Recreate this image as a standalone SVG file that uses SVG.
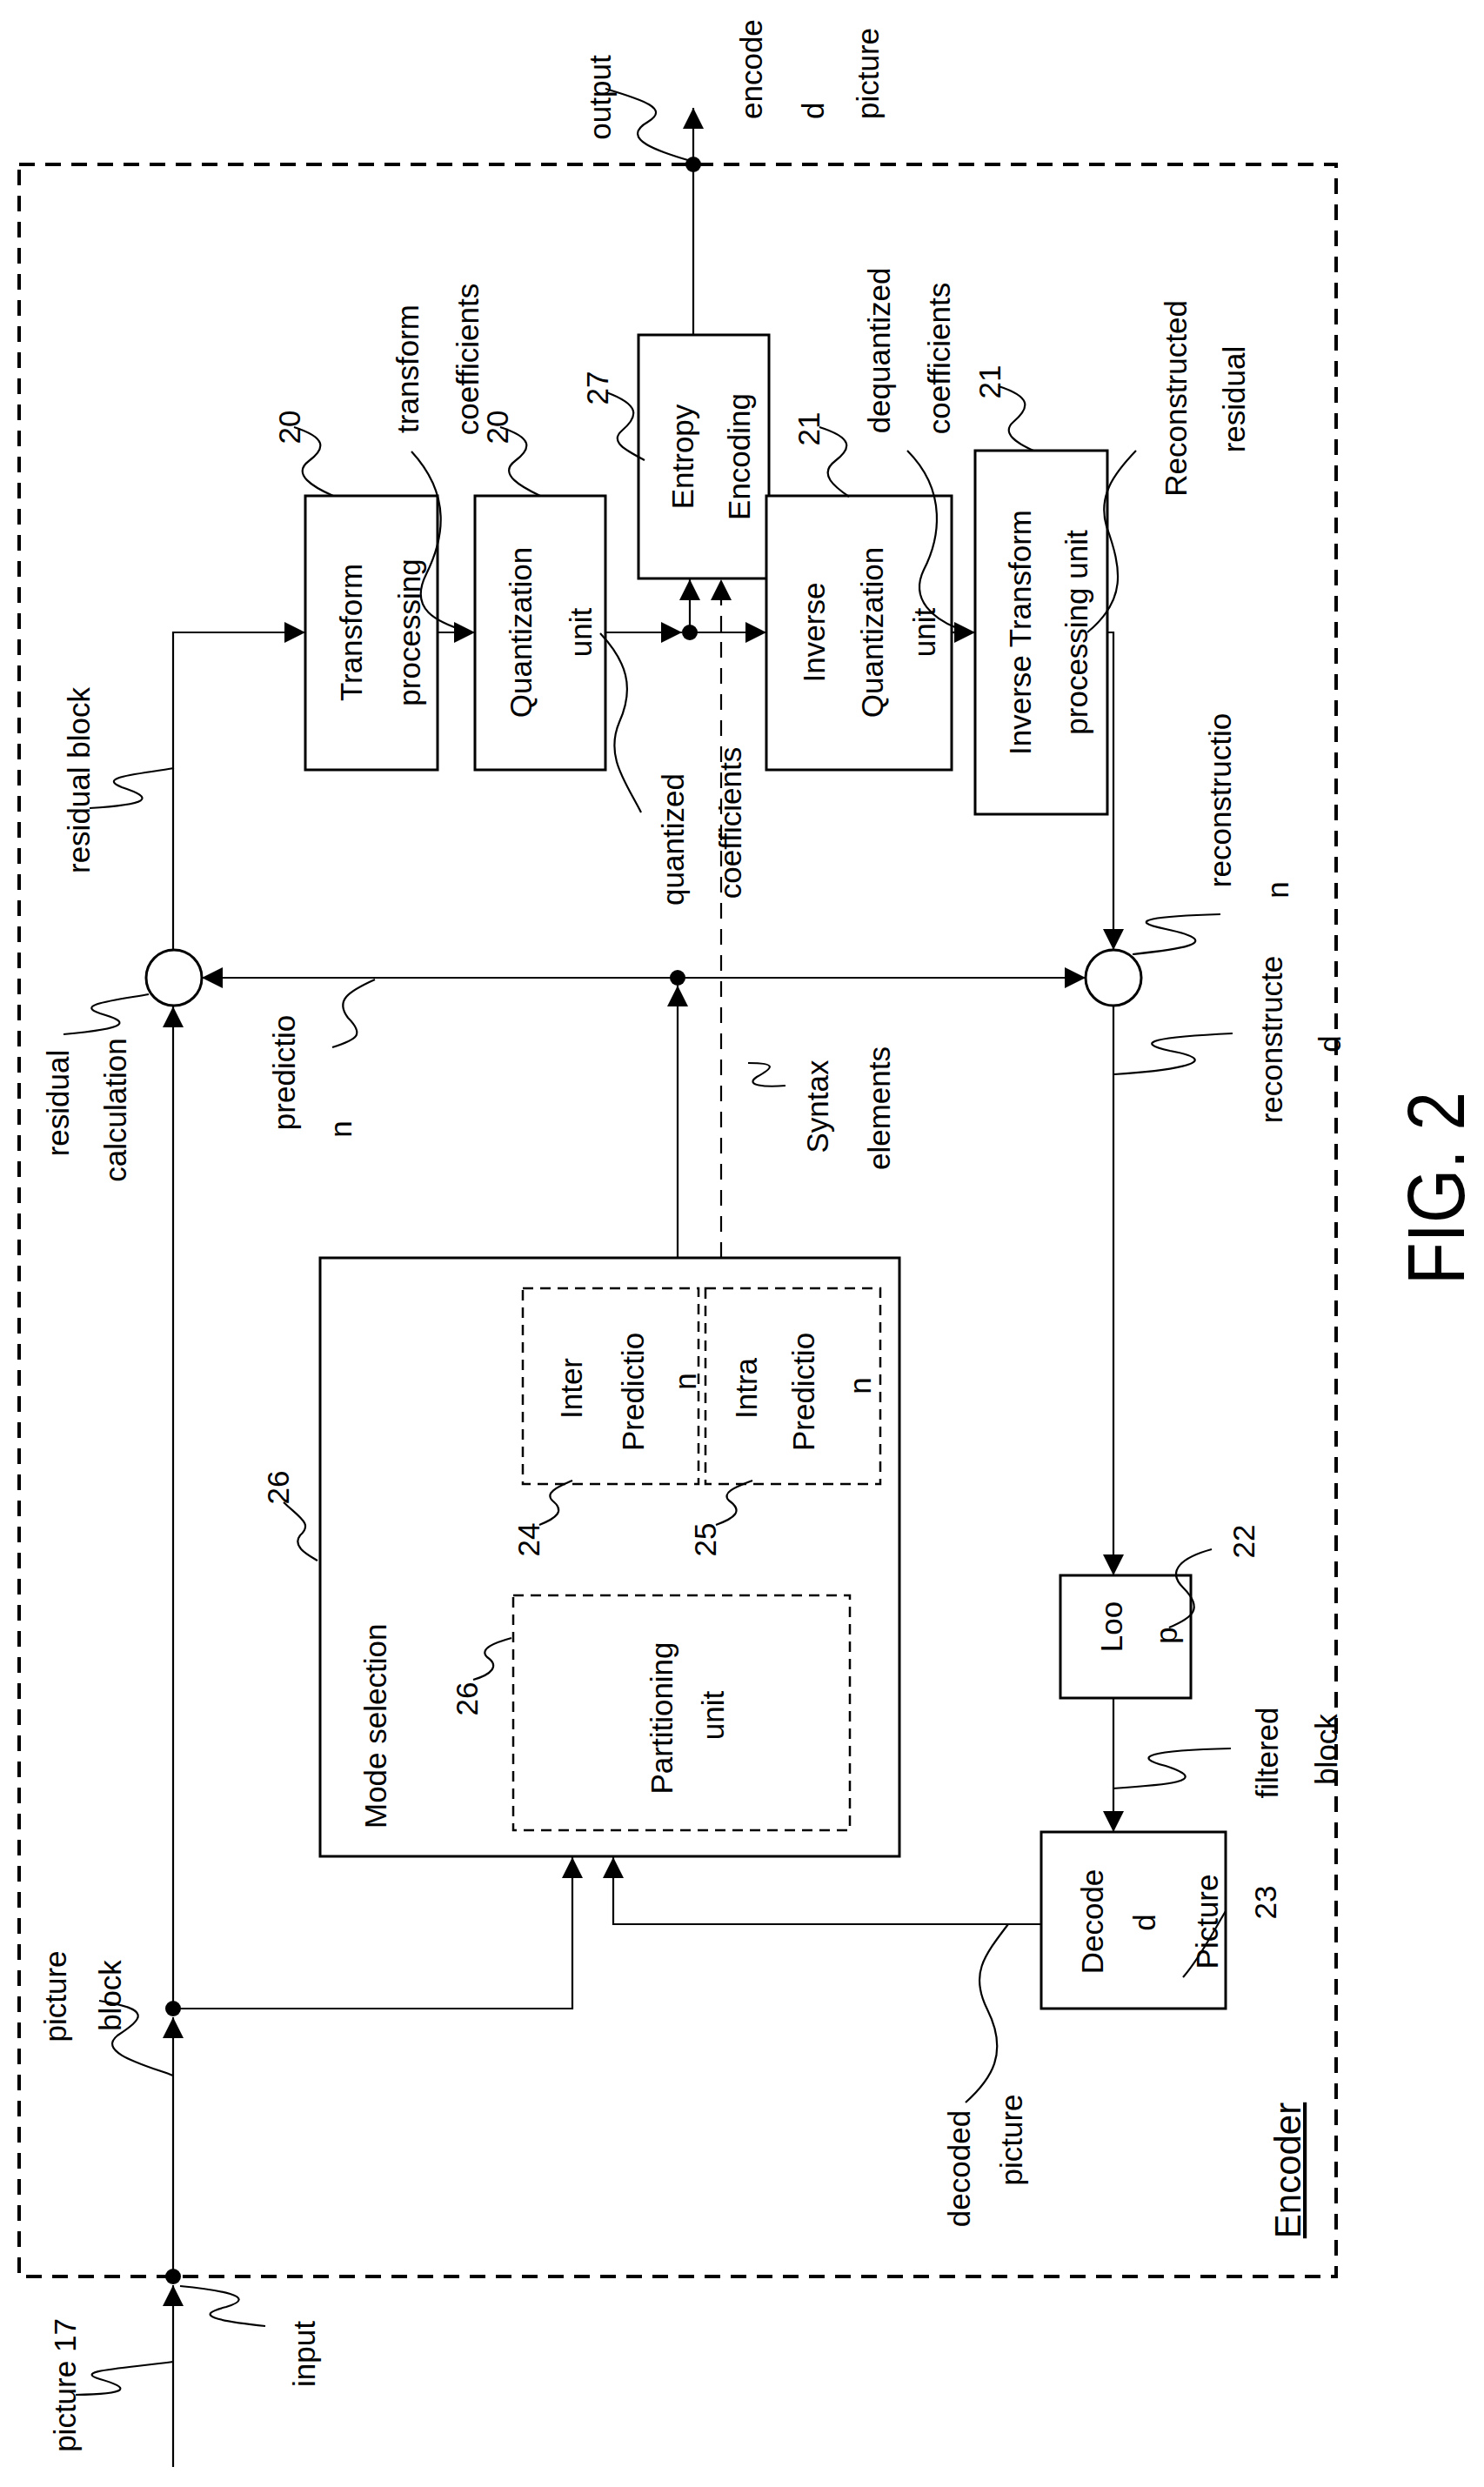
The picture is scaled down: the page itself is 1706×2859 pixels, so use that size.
<svg xmlns="http://www.w3.org/2000/svg" width="1706" height="2859" viewBox="0 0 1706 2859">
<style>
text{font-family:"Liberation Sans",Arial,sans-serif;font-size:35px;fill:#000}
.t{text-anchor:middle}
.s{text-anchor:start}
.box{fill:#fff;stroke:#000;stroke-width:3}
.dbox{fill:none;stroke:#000;stroke-width:2.5;stroke-dasharray:12 8}
.ln{fill:none;stroke:#000;stroke-width:2.2}
.ar{marker-end:url(#ah)}
.sq{fill:none;stroke:#000;stroke-width:2.2}
</style>
<defs>
<marker id="ah" markerUnits="userSpaceOnUse" markerWidth="24" markerHeight="24" refX="24" refY="12" orient="auto">
<path d="M0,0 L24,12 L0,24 z" fill="#000"/>
</marker>
</defs>
<rect width="1706" height="2859" fill="#fff"/>
<g id="encoder">
<rect x="22" y="189" width="1514" height="2428" fill="none" stroke="#000" stroke-width="4" stroke-dasharray="18 12"/>
<text transform="translate(1495,2495) rotate(-90)" class="t" style="font-size:42px;text-decoration:underline">Encoder</text>
</g>
<g id="connectors">
<path class="ln ar" d="M199,2836 V2627"/>
<path class="ln ar" d="M199,2617 V2319"/>
<path class="ln ar" d="M199,2309 V1157"/>
<path class="ln ar" d="M199,2309 H658 V2135"/>
<path class="ln ar" d="M1197,2212 H705 V2135"/>
<path class="ln ar" d="M199,1092 V727 H351"/>
<path class="ln ar" d="M503,727 H546"/>
<path class="ln ar" d="M696,727 H784"/>
<path class="ln ar" d="M793,727 H881"/>
<path class="ln ar" d="M793,727 V666"/>
<path class="ln ar" d="M829,1446 V666" stroke-dasharray="18 12"/>
<path class="ln ar" d="M1094,727 H1121"/>
<path class="ln ar" d="M1251,727 H1280 V1092"/>
<path class="ln ar" d="M779,1446 V1133"/>
<path class="ln ar" d="M779,1124 H232"/>
<path class="ln ar" d="M779,1124 H1248"/>
<path class="ln ar" d="M1280,1156 V1811"/>
<path class="ln ar" d="M1280,1952 V2106"/>
<path class="ln ar" d="M797,385 V124"/>
<circle cx="797" cy="189" r="9"/>
<circle cx="793" cy="727" r="9"/>
<circle cx="779" cy="1124" r="9"/>
<circle cx="199" cy="2309" r="9"/>
<circle cx="199" cy="2617" r="9"/>
</g>
<g id="residual">
<circle cx="200" cy="1124" r="32" fill="#fff" stroke="#000" stroke-width="3"/>
</g>
<g id="reconstruction">
<circle cx="1280" cy="1124" r="32" fill="#fff" stroke="#000" stroke-width="3"/>
</g>
<g id="transform">
<rect class="box" x="351" y="570" width="152" height="315"/>
<text transform="translate(416,727) rotate(-90)" class="t">Transform</text>
<text transform="translate(483,727) rotate(-90)" class="t">processing</text>
</g>
<g id="quantization">
<rect class="box" x="546" y="570" width="150" height="315"/>
<text transform="translate(611,727) rotate(-90)" class="t">Quantization</text>
<text transform="translate(680,727) rotate(-90)" class="t">unit</text>
</g>
<g id="entropy">
<rect class="box" x="734" y="385" width="150" height="280"/>
<text transform="translate(797,525) rotate(-90)" class="t">Entropy</text>
<text transform="translate(862,525) rotate(-90)" class="t">Encoding</text>
</g>
<g id="invquant">
<rect class="box" x="881" y="570" width="213" height="315"/>
<text transform="translate(948,727) rotate(-90)" class="t">Inverse</text>
<text transform="translate(1015,727) rotate(-90)" class="t">Quantization</text>
<text transform="translate(1075,727) rotate(-90)" class="t">unit</text>
</g>
<g id="invtransform">
<rect class="box" x="1121" y="518" width="152" height="418"/>
<text transform="translate(1185,727) rotate(-90)" class="t">Inverse Transform</text>
<text transform="translate(1250,727) rotate(-90)" class="t">processing unit</text>
</g>
<g id="modeselection">
<rect class="box" x="368" y="1446" width="666" height="688"/>
<text transform="translate(444,2102) rotate(-90)" class="s">Mode selection</text>
</g>
<g id="inter">
<rect class="dbox" x="601" y="1481" width="202" height="225"/>
<text transform="translate(669,1596) rotate(-90)" class="t">Inter</text>
<text transform="translate(740,1600) rotate(-90)" class="t">Predictio</text>
<text transform="translate(800,1588) rotate(-90)" class="t">n</text>
</g>
<g id="intra">
<rect class="dbox" x="811" y="1481" width="201" height="225"/>
<text transform="translate(870,1596) rotate(-90)" class="t">Intra</text>
<text transform="translate(936,1600) rotate(-90)" class="t">Predictio</text>
<text transform="translate(1001,1593) rotate(-90)" class="t">n</text>
</g>
<g id="partitioning">
<rect class="dbox" x="590" y="1834" width="387" height="270"/>
<text transform="translate(773,1975) rotate(-90)" class="t">Partitioning</text>
<text transform="translate(832,1972) rotate(-90)" class="t">unit</text>
</g>
<g id="loop">
<rect class="box" x="1219" y="1811" width="150" height="141"/>
<text transform="translate(1290,1870) rotate(-90)" class="t">Loo</text>
<text transform="translate(1353,1880) rotate(-90)" class="t">p</text>
</g>
<g id="decoded">
<rect class="box" x="1197" y="2106" width="212" height="203"/>
<text transform="translate(1268,2209) rotate(-90)" class="t">Decode</text>
<text transform="translate(1328,2210) rotate(-90)" class="t">d</text>
<text transform="translate(1400,2209) rotate(-90)" class="t">Picture</text>
</g>
<g id="labels">
<text transform="translate(87,2742) rotate(-90)" class="t">picture 17</text>
<text transform="translate(362,2706) rotate(-90)" class="t">input</text>
<text transform="translate(76,2295) rotate(-90)" class="t">picture</text>
<text transform="translate(139,2294) rotate(-90)" class="t">block</text>
<text transform="translate(1115,2493) rotate(-90)" class="t">decoded</text>
<text transform="translate(1175,2460) rotate(-90)" class="t">picture</text>
<text transform="translate(1469,2015) rotate(-90)" class="t">filtered</text>
<text transform="translate(1537,2011) rotate(-90)" class="t">block</text>
<text transform="translate(1467,2187) rotate(-90)" class="t">23</text>
<text transform="translate(1442,1772) rotate(-90)" class="t">22</text>
<text transform="translate(549,1953) rotate(-90)" class="t">26</text>
<text transform="translate(332,1710) rotate(-90)" class="t">26</text>
<text transform="translate(620,1770) rotate(-90)" class="t">24</text>
<text transform="translate(823,1770) rotate(-90)" class="t">25</text>
<text transform="translate(952,1272) rotate(-90)" class="t">Syntax</text>
<text transform="translate(1023,1274) rotate(-90)" class="t">elements</text>
<text transform="translate(1474,1195) rotate(-90)" class="t">reconstructe</text>
<text transform="translate(1541,1200) rotate(-90)" class="t">d</text>
<text transform="translate(1415,920) rotate(-90)" class="t">reconstructio</text>
<text transform="translate(1481,1023) rotate(-90)" class="t">n</text>
<text transform="translate(339,1233) rotate(-90)" class="t">predictio</text>
<text transform="translate(404,1298) rotate(-90)" class="t">n</text>
<text transform="translate(79,1268) rotate(-90)" class="t">residual</text>
<text transform="translate(145,1276) rotate(-90)" class="t">calculation</text>
<text transform="translate(103,897) rotate(-90)" class="t">residual block</text>
<text transform="translate(786,965) rotate(-90)" class="t">quantized</text>
<text transform="translate(852,946) rotate(-90)" class="t">coefficients</text>
<text transform="translate(345,491) rotate(-90)" class="t">20</text>
<text transform="translate(584,491) rotate(-90)" class="t">20</text>
<text transform="translate(699,446) rotate(-90)" class="t">27</text>
<text transform="translate(942,493) rotate(-90)" class="t">21</text>
<text transform="translate(1150,439) rotate(-90)" class="t">21</text>
<text transform="translate(481,424) rotate(-90)" class="t">transform</text>
<text transform="translate(550,413) rotate(-90)" class="t">coefficients</text>
<text transform="translate(1023,403) rotate(-90)" class="t">dequantized</text>
<text transform="translate(1092,412) rotate(-90)" class="t">coefficients</text>
<text transform="translate(1364,458) rotate(-90)" class="t">Reconstructed</text>
<text transform="translate(1431,459) rotate(-90)" class="t">residual</text>
<text transform="translate(702,112) rotate(-90)" class="t">output</text>
<text transform="translate(876,137) rotate(-90)" class="s">encode</text>
<text transform="translate(947,137) rotate(-90)" class="s">d</text>
<text transform="translate(1010,137) rotate(-90)" class="s">picture</text>
<text transform="translate(1683,1366) rotate(-90)" class="t" style="font-size:92px" textLength="222" lengthAdjust="spacingAndGlyphs">FIG. 2</text>
</g>
<g id="squiggles">
<path class="sq" d="M199,2715 C150,2722 80,2725 115,2735 C150,2745 150,2752 87,2753"/>
<path class="sq" d="M207,2628 C250,2632 300,2640 260,2652 C220,2662 250,2668 305,2674"/>
<path class="sq" d="M199,2386 C170,2375 110,2360 135,2340 C165,2320 175,2310 114,2300"/>
<path class="sq" d="M1159,2212 C1130,2250 1115,2270 1135,2310 C1160,2360 1140,2390 1110,2417"/>
<path class="sq" d="M1360,2273 C1380,2250 1395,2220 1409,2197"/>
<path class="sq" d="M1279,2056 C1340,2052 1395,2048 1340,2030 C1300,2020 1320,2012 1415,2010"/>
<path class="sq" d="M1393,1781 C1360,1790 1340,1805 1360,1825 C1385,1850 1370,1860 1344,1871"/>
<path class="sq" d="M1281,1235 C1330,1232 1420,1222 1345,1208 C1300,1198 1330,1192 1417,1188"/>
<path class="sq" d="M1302,1097 C1340,1093 1420,1085 1340,1068 C1290,1058 1330,1053 1403,1051"/>
<path class="sq" d="M903,1248 C880,1250 855,1248 870,1238 C888,1228 895,1222 860,1222"/>
<path class="sq" d="M431,1126 C400,1140 385,1150 400,1170 C420,1190 410,1195 382,1204"/>
<path class="sq" d="M171,1143 C130,1150 85,1155 115,1165 C150,1175 150,1182 73,1189"/>
<path class="sq" d="M200,883 C160,890 110,893 140,905 C180,918 170,925 103,929"/>
<path class="sq" d="M326,1727 C345,1745 360,1752 345,1765 C335,1778 355,1788 365,1794"/>
<path class="sq" d="M544,1931 C565,1925 575,1915 560,1905 C550,1895 570,1888 588,1883"/>
<path class="sq" d="M620,1753 C640,1745 650,1737 635,1725 C625,1715 645,1708 658,1702"/>
<path class="sq" d="M823,1753 C845,1745 855,1737 838,1725 C828,1715 850,1708 865,1702"/>
<path class="sq" d="M338,491 C375,503 375,515 355,530 C335,545 360,560 383,570"/>
<path class="sq" d="M575,491 C612,503 612,515 592,530 C572,545 600,560 621,570"/>
<path class="sq" d="M697,451 C735,465 735,478 715,495 C700,508 720,518 741,529"/>
<path class="sq" d="M942,491 C980,503 980,515 960,530 C940,545 960,560 976,571"/>
<path class="sq" d="M1148,444 C1185,456 1185,468 1165,485 C1150,498 1170,510 1188,518"/>
<path class="sq" d="M473,519 C520,570 510,620 490,660 C470,700 500,715 540,727"/>
<path class="sq" d="M690,728 C720,760 730,790 712,830 C695,870 720,900 737,934"/>
<path class="sq" d="M1043,518 C1090,565 1080,620 1062,655 C1045,690 1075,712 1100,722"/>
<path class="sq" d="M1306,518 C1280,545 1262,570 1272,605 C1290,655 1295,690 1250,727"/>
<path class="sq" d="M696,102 C740,115 770,125 745,140 C710,160 760,175 794,185"/>
</g>
</svg>
